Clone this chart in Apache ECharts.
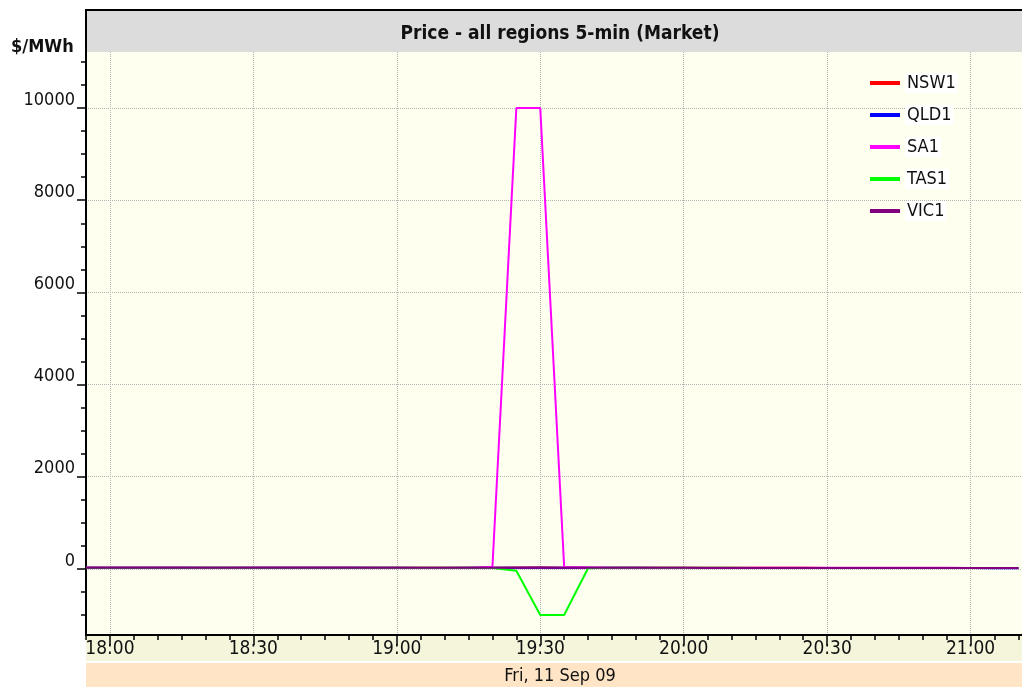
<!DOCTYPE html>
<html>
<head>
<meta charset="utf-8">
<script src="https://cdn.jsdelivr.net/npm/echarts@6/dist/echarts.min.js"></script>
<style>
  html, body { margin: 0; padding: 0; background: #fff; }
  #chart { width: 1022px; height: 687px; }
</style>
</head>
<body>
<div id="chart"></div>
<script>
// 5-min dispatch intervals
var times = ['17:55','18:00','18:05','18:10','18:15','18:20','18:25','18:30','18:35','18:40',
             '18:45','18:50','18:55','19:00','19:05','19:10','19:15','19:20','19:25','19:30',
             '19:35','19:40','19:45','19:50','19:55','20:00','20:05','20:10','20:15','20:20',
             '20:25','20:30','20:35','20:40','20:45','20:50','20:55','21:00','21:05','21:10'];

var nsw1 = [28,27,27,26,26,25,25,26,26,27,27,26,25,25,24,24,25,26,28,30,27,26,25,25,24,24,23,23,22,22,22,21,21,21,20,20,20,19,19,19];
var qld1 = [24,23,23,23,22,22,22,23,23,24,24,23,22,22,21,21,22,23,25,27,24,23,22,22,21,21,20,20,19,19,19,18,18,18,17,17,17,17,16,16];
var sa1  = [30,29,29,28,28,27,27,28,28,29,29,28,27,27,26,26,27,45,10000,10000,40,28,27,27,26,26,25,25,24,24,24,23,23,23,22,22,22,21,21,21];
var tas1 = [26,25,25,25,24,24,24,25,25,26,26,25,24,24,23,23,24,20,-40,-1000,-1000,15,24,24,23,23,22,22,21,21,21,20,20,20,19,19,19,18,18,18];
var vic1 = [25,24,24,24,23,23,23,24,24,25,25,24,23,23,22,22,23,24,27,29,26,24,23,23,22,22,21,21,20,20,20,19,19,19,18,18,18,18,17,17];

var regionNames = ['NSW1', 'QLD1', 'SA1', 'TAS1', 'VIC1'];
var regionColors = ['#ff0000', '#0000ff', '#ff00ff', '#00ff00', '#800080'];
var regionData = [nsw1, qld1, sa1, tas1, vic1];

var yMajor = [0, 2000, 4000, 6000, 8000, 10000];
var yMinor = [-1000,-500,0,500,1000,1500,2000,2500,3000,3500,4000,4500,5000,5500,6000,6500,7000,7500,8000,8500,9000,9500,10000,10500,11000];
var xMajor = ['18:00','18:30','19:00','19:30','20:00','20:30','21:00'];

function toMin(t) {
  var p = t.split(':');
  return parseInt(p[0], 10) * 60 + parseInt(p[1], 10);
}
function fmtMin(v) {
  var h = Math.floor(v / 60), m = Math.round(v % 60);
  return h + ':' + (m < 10 ? '0' + m : m);
}

var xMin = toMin('17:55');
var xMax = xMin + 195.75;
var yMin = -1435;
var yMax = 11217;

var font = 'DejaVu Sans Condensed';
var xTickVals = times.map(toMin);
var xMajorVals = xMajor.map(toMin);

var chart = echarts.init(document.getElementById('chart'), null, { renderer: 'canvas' });

var series = regionNames.map(function (name, i) {
  return {
    name: name,
    type: 'line',
    xAxisIndex: 0,
    yAxisIndex: 0,
    showSymbol: false,
    color: regionColors[i],
    lineStyle: { width: 2, color: regionColors[i] },
    data: regionData[i].map(function (v, k) { return [toMin(times[k]), v]; })
  };
});

var gridBox = { left: 86, right: 0, top: 52, bottom: 52 };

var option = {
  animation: false,
  backgroundColor: '#ffffff',
  title: [
    {
      text: 'Price - all regions 5-min (Market)',
      left: 555, top: 20, textAlign: 'center',
      textStyle: { fontFamily: font, fontWeight: 'bold', fontSize: 19, color: '#111' }
    },
    {
      text: '$/MWh',
      left: 6, top: 33,
      textStyle: { fontFamily: font, fontWeight: 'bold', fontSize: 18, color: '#111' }
    }
  ],
  legend: {
    orient: 'vertical',
    left: 865, top: 68,
    itemWidth: 30, itemHeight: 4, itemGap: 12,
    icon: 'rect',
    data: regionNames,
    textStyle: { fontFamily: font, fontSize: 18, color: '#111', backgroundColor: '#ffffff', padding: [1, 2] }
  },
  graphic: [
    { type: 'rect', z: -1, shape: { x: 86, y: 10, width: 936, height: 42 }, style: { fill: '#dcdcdc' } },
    { type: 'polyline', z: -1, shape: { points: [[86, 52], [86, 10], [1022, 10]] }, style: { stroke: '#000', lineWidth: 2, fill: null } },
    { type: 'rect', z: -1, shape: { x: 86, y: 636, width: 936, height: 25 }, style: { fill: '#f5f5dc' } },
    { type: 'rect', z: -1, shape: { x: 86, y: 663, width: 936, height: 24 }, style: { fill: '#ffe4c6' } },
    { type: 'text', z: 1, x: 560, y: 676, style: { text: 'Fri, 11 Sep 09', fontFamily: font, fontSize: 18, fill: '#111', align: 'center', verticalAlign: 'middle' } }
  ],
  grid: [
    Object.assign({ show: true, backgroundColor: '#fffff0', borderWidth: 0 }, gridBox),
    Object.assign({ show: false }, gridBox)
  ],
  xAxis: [
    {
      gridIndex: 0, type: 'value', min: xMin, max: xMax,
      axisLine: { show: true, onZero: false, lineStyle: { color: '#000', width: 2 } },
      axisTick: { show: true, length: 5, customValues: xTickVals, lineStyle: { color: '#000', width: 1.5 } },
      axisLabel: { show: true, customValues: xMajorVals, formatter: fmtMin, margin: 5, fontFamily: font, fontSize: 19, color: '#111' },
      splitLine: { show: false }
    },
    {
      gridIndex: 1, type: 'value', min: xMin, max: xMax,
      axisLine: { show: false, onZero: false },
      axisTick: { show: true, length: 10, customValues: xMajorVals, lineStyle: { color: '#000', width: 1.5 } },
      axisLabel: { show: false },
      splitLine: { show: true, lineStyle: { color: '#b4b4b4', type: 'dotted', width: 1 } }
    }
  ],
  yAxis: [
    {
      gridIndex: 0, type: 'value', min: yMin, max: yMax,
      axisLine: { show: true, onZero: false, lineStyle: { color: '#000', width: 2 } },
      axisTick: { show: true, length: 5, customValues: yMinor, lineStyle: { color: '#000', width: 1.5 } },
      axisLabel: {
        show: true, customValues: yMajor, margin: 11, verticalAlign: 'bottom', lineHeight: 16,
        formatter: function (v) { return String(v); },
        fontFamily: font, fontSize: 18, color: '#111'
      },
      splitLine: { show: false }
    },
    {
      gridIndex: 1, type: 'value', min: yMin, max: yMax,
      axisLine: { show: false, onZero: false },
      axisTick: { show: true, length: 9, customValues: yMajor, lineStyle: { color: '#000', width: 1.5 } },
      axisLabel: { show: false },
      splitLine: { show: true, lineStyle: { color: '#b4b4b4', type: 'dotted', width: 1 } }
    }
  ],
  series: series
};

chart.setOption(option);
</script>
</body>
</html>
